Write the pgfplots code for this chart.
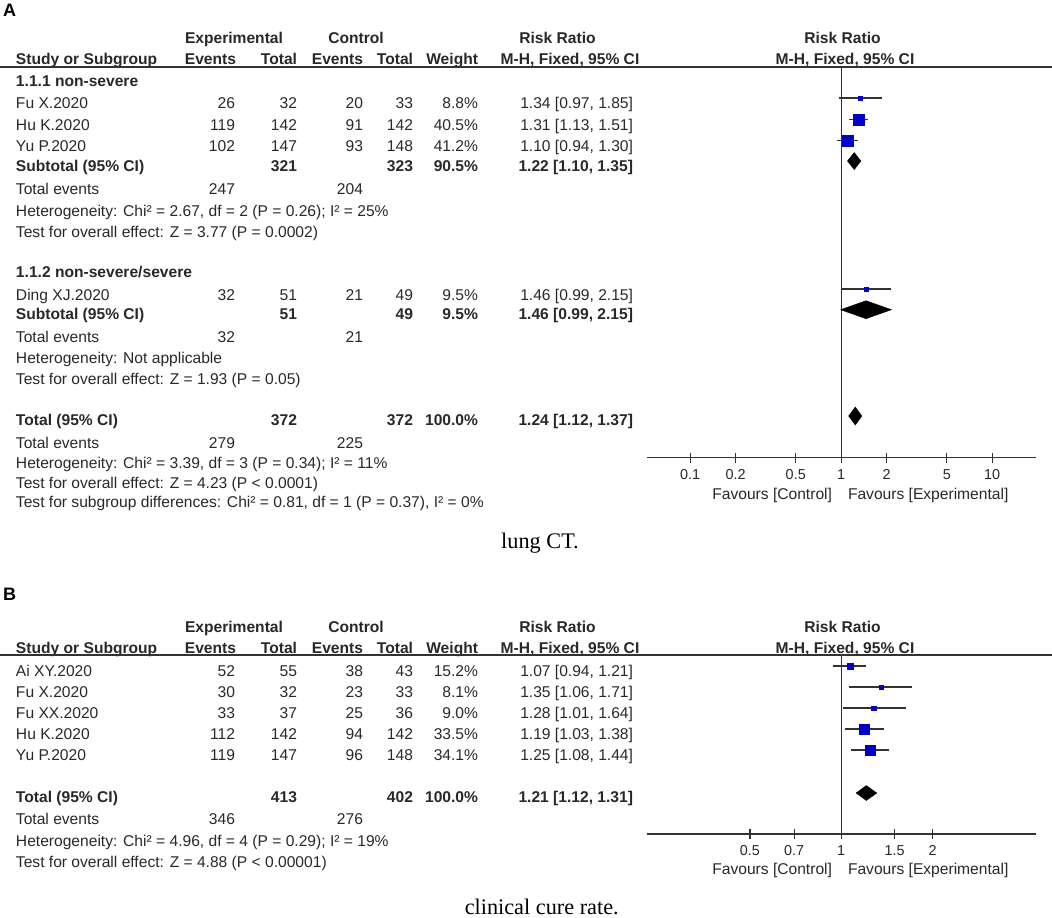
\documentclass[border=0pt]{standalone}
\usepackage{fontspec}
\setmainfont{Liberation Sans}
\newfontfamily\capfont{Liberation Serif}
\usepackage{pgfplots}
\pgfplotsset{compat=1.18}

\definecolor{txt}{RGB}{40,40,40}
\definecolor{linec}{RGB}{50,50,50}
\definecolor{sq}{RGB}{0,0,200}

\newcommand\fs{\fontsize{11.7}{14}\selectfont}
% text helpers: x in px, y = visual centre of the row in px
\newcommand\Tw[3]{\node[anchor=base west] at (#1,{#2+5.6}) {#3};}
\newcommand\Te[3]{\node[anchor=base east] at (#1,{#2+5.6}) {#3};}
\newcommand\Tc[3]{\node[anchor=base] at (#1,{#2+5.6}) {#3};}
% one table row: y, study, exp events, exp total, ctrl events, ctrl total, weight, RR
\newcommand\Row[8]{\Tw{16}{#1}{#2}\Te{235}{#1}{#3}\Te{297}{#1}{#4}\Te{363}{#1}{#5}\Te{413}{#1}{#6}\Te{478}{#1}{#7}\Te{633}{#1}{#8}}
\newcommand\Header[1]{%
  \begingroup\bfseries
  \Tc{234}{#1}{Experimental}\Tc{356}{#1}{Control}\Tc{557.5}{#1}{Risk Ratio}\Tc{842.5}{#1}{Risk Ratio}
  \Tw{16}{#1+21}{Study or Subgroup}\Te{236}{#1+21}{Events}\Te{297}{#1+21}{Total}
  \Te{363}{#1+21}{Events}\Te{413}{#1+21}{Total}\Te{478}{#1+21}{Weight}
  \Tc{570}{#1+21}{M-H, Fixed, 95\% CI}\Tc{845}{#1+21}{M-H, Fixed, 95\% CI}
  \endgroup}

\pgfplotsset{
  ci/.style={draw=linec, line width=1pt, mark=none},
  sqm/.style={only marks, mark=square*, mark options={draw=sq, fill=sq, line width=0.2pt}},
  dia/.style={fill=black, draw=black, line width=0.3pt, mark=none},
}
\newcommand\Study[5]{%
  \addplot[ci] coordinates {(#2,#4) (#3,#4)};
  \addplot[sqm, mark size=#5] coordinates {(#1,#4)};}

\begin{document}
\begin{tikzpicture}
\begin{scope}[x=0.75pt, y=-0.75pt,
  every node/.style={inner sep=0pt, outer sep=0pt, font=\fs, text=txt}]
\useasboundingbox (0,0) rectangle (1052,917);

% ---------------- panel A text ----------------
\node[anchor=base west, font=\fontsize{13.5}{16}\selectfont\bfseries, text=black] at (3,17) {A};
\Header{38}
\draw[linec, line width=1.1pt] (0,67) -- (1052,67);
\Tw{16}{81}{\bfseries 1.1.1 non-severe}
\Row{103}{Fu X.2020}{26}{32}{20}{33}{8.8\%}{1.34 [0.97, 1.85]}
\Row{125}{Hu K.2020}{119}{142}{91}{142}{40.5\%}{1.31 [1.13, 1.51]}
\Row{146}{Yu P.2020}{102}{147}{93}{148}{41.2\%}{1.10 [0.94, 1.30]}
\Row{166}{\bfseries Subtotal (95\% CI)}{}{\bfseries 321}{}{\bfseries 323}{\bfseries 90.5\%}{\bfseries 1.22 [1.10, 1.35]}
\Row{189}{Total events}{247}{}{204}{}{}{}
\Tw{16}{211}{Heterogeneity: Chi² = 2.67, df = 2 (P = 0.26); I² = 25\%}
\Tw{16}{232}{Test for overall effect: Z = 3.77 (P = 0.0002)}
\Tw{16}{272}{\bfseries 1.1.2 non-severe/severe}
\Row{295}{Ding XJ.2020}{32}{51}{21}{49}{9.5\%}{1.46 [0.99, 2.15]}
\Row{314}{\bfseries Subtotal (95\% CI)}{}{\bfseries 51}{}{\bfseries 49}{\bfseries 9.5\%}{\bfseries 1.46 [0.99, 2.15]}
\Row{337}{Total events}{32}{}{21}{}{}{}
\Tw{16}{358}{Heterogeneity: Not applicable}
\Tw{16}{379}{Test for overall effect: Z = 1.93 (P = 0.05)}
\Row{420}{\bfseries Total (95\% CI)}{}{\bfseries 372}{}{\bfseries 372}{\bfseries 100.0\%}{\bfseries 1.24 [1.12, 1.37]}
\Row{443}{Total events}{279}{}{225}{}{}{}
\Tw{16}{463}{Heterogeneity: Chi² = 3.39, df = 3 (P = 0.34); I² = 11\%}
\Tw{16}{483}{Test for overall effect: Z = 4.23 (P < 0.0001)}
\Tw{16}{502}{Test for subgroup differences: Chi² = 0.81, df = 1 (P = 0.37), I² = 0\%}
\Te{832}{494}{Favours [Control]}
\Tw{848}{494}{Favours [Experimental]}
\node[anchor=base, font=\capfont\fontsize{16.7}{20}\selectfont, text=black] at (540,548) {lung CT.};

% ---------------- panel B text ----------------
\node[anchor=base west, font=\fontsize{13.5}{16}\selectfont\bfseries, text=black] at (3,600) {B};
\Header{627}
\draw[linec, line width=1.1pt] (0,655) -- (1052,655);
\Row{671}{Ai XY.2020}{52}{55}{38}{43}{15.2\%}{1.07 [0.94, 1.21]}
\Row{692}{Fu X.2020}{30}{32}{23}{33}{8.1\%}{1.35 [1.06, 1.71]}
\Row{713}{Fu XX.2020}{33}{37}{25}{36}{9.0\%}{1.28 [1.01, 1.64]}
\Row{734}{Hu K.2020}{112}{142}{94}{142}{33.5\%}{1.19 [1.03, 1.38]}
\Row{755}{Yu P.2020}{119}{147}{96}{148}{34.1\%}{1.25 [1.08, 1.44]}
\Row{797}{\bfseries Total (95\% CI)}{}{\bfseries 413}{}{\bfseries 402}{\bfseries 100.0\%}{\bfseries 1.21 [1.12, 1.31]}
\Row{819}{Total events}{346}{}{276}{}{}{}
\Tw{16}{841}{Heterogeneity: Chi² = 4.96, df = 4 (P = 0.29); I² = 19\%}
\Tw{16}{862}{Test for overall effect: Z = 4.88 (P < 0.00001)}
\Te{832}{869}{Favours [Control]}
\Tw{848}{869}{Favours [Experimental]}
\node[anchor=base, font=\capfont\fontsize{16.7}{20}\selectfont, text=black] at (541.7,914) {clinical cure rate.};
\end{scope}

% ---------------- panel A plot ----------------
\begin{axis}[at={(485.025pt,-343.275pt)}, anchor=south west,
  scale only axis, xmode=log, width=291.75pt, height=293.0pt,
  xmin=0.05152, xmax=19.41, ymin=-457.7, ymax=-67,
  axis x line=bottom, axis y line=none,
  axis line style={-, line width=1pt, draw=linec},
  tick align=center, major tick length=7.5pt,
  tick style={line width=1pt, draw=linec},
  xminorticks=false, clip=false, enlargelimits=false,
  xticklabel style={anchor=base, yshift=-12.6pt, inner sep=0pt,
    font=\fontsize{10.8}{13}\selectfont, text=txt},
  xtick={0.1,0.2,0.5,1,2,5,10}, xticklabels={0.1,0.2,0.5,1,2,5,10}]
  \addplot[ci] coordinates {(1,-67) (1,-457.7)};
  \Study{1.34}{0.97}{1.85}{-98}{1.5pt}
  \Study{1.31}{1.13}{1.51}{-119.5}{4.0pt}
  \Study{1.10}{0.94}{1.30}{-140.5}{4.1pt}
  \addplot[dia] coordinates {(1.10,-161) (1.22,-152.5) (1.35,-161) (1.22,-169.5) (1.10,-161)};
  \Study{1.46}{0.99}{2.15}{-289}{1.5pt}
  \addplot[dia] coordinates {(0.99,-309.7) (1.46,-300.7) (2.15,-309.7) (1.46,-318.7) (0.99,-309.7)};
  \addplot[dia] coordinates {(1.12,-416) (1.24,-407) (1.37,-416) (1.24,-425) (1.12,-416)};
\end{axis}

% ---------------- panel B plot ----------------
\begin{axis}[at={(485.025pt,-625.5pt)}, anchor=south west,
  scale only axis, xmode=log, width=291.75pt, height=134.25pt,
  xmin=0.2284, xmax=4.378, ymin=-834, ymax=-655,
  axis x line=bottom, axis y line=none,
  axis line style={-, line width=1pt, draw=linec},
  tick align=center, major tick length=7.5pt,
  tick style={line width=1pt, draw=linec},
  xminorticks=false, clip=false, enlargelimits=false,
  xticklabel style={anchor=base, yshift=-12.6pt, inner sep=0pt,
    font=\fontsize{10.8}{13}\selectfont, text=txt},
  xtick={0.5,0.7,1,1.5,2}, xticklabels={0.5,0.7,1,1.5,2}]
  \addplot[ci] coordinates {(1,-655) (1,-834)};
  \Study{1.07}{0.94}{1.21}{-666}{2.0pt}
  \Study{1.35}{1.06}{1.71}{-687}{1.5pt}
  \Study{1.28}{1.01}{1.64}{-708}{1.6pt}
  \Study{1.19}{1.03}{1.38}{-729}{3.75pt}
  \Study{1.25}{1.08}{1.44}{-750}{3.75pt}
  \addplot[dia] coordinates {(1.12,-793) (1.21,-785.5) (1.31,-793) (1.21,-800.5) (1.12,-793)};
\end{axis}
\end{tikzpicture}
\end{document}
